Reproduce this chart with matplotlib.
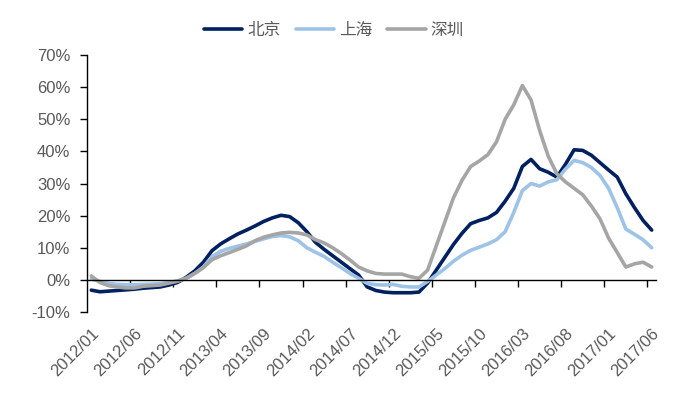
import numpy as np
import pandas as pd
import matplotlib
matplotlib.use('Agg')
import matplotlib.pyplot as plt
from matplotlib.ticker import FuncFormatter

plt.rcParams['font.family'] = ['Liberation Sans', 'Noto Sans CJK SC', 'DejaVu Sans']

# monthly categories 2012/01 .. 2017/06
months = pd.date_range('2012-01-01', periods=66, freq='MS').strftime('%Y/%m').tolist()

# year-on-year change, %
beijing = [-3.2, -3.7, -3.5, -3.3, -3.1, -2.9, -2.6, -2.4, -2.2, -1.6,
           -0.8, 0.8, 2.8, 5.5, 9.1, 11.2, 12.8, 14.3, 15.5, 16.8,
           18.2, 19.3, 20.1, 19.7, 17.8, 15.0, 11.7, 9.5, 7.5, 5.5,
           3.5, 1.5, -2.2, -3.3, -3.8, -4.0, -4.0, -4.0, -3.8, -1.0,
           3.0, 7.0, 11.0, 14.5, 17.5, 18.5, 19.3, 21.0, 24.5, 28.5,
           35.3, 37.5, 34.6, 33.5, 32.0, 36.0, 40.5, 40.3, 38.8, 36.5,
           34.2, 32.0, 26.8, 22.5, 18.5, 15.5]
shanghai = [0.3, -0.5, -1.1, -1.4, -1.5, -1.5, -1.4, -1.3, -1.2, -0.8,
            -0.3, 0.5, 2.0, 4.0, 7.2, 8.9, 9.8, 10.5, 11.2, 12.0,
            12.8, 13.5, 13.8, 13.4, 12.2, 10.0, 8.6, 7.3, 5.5, 3.8,
            2.0, 0.5, -1.1, -1.5, -1.6, -1.4, -2.0, -2.2, -2.2, -0.5,
            1.5, 3.5, 5.8, 7.7, 9.2, 10.2, 11.2, 12.5, 15.0, 21.0,
            27.8, 30.0, 29.2, 30.5, 31.2, 34.5, 37.2, 36.5, 35.0, 32.5,
            28.5, 22.5, 15.8, 14.2, 12.5, 10.0]
shenzhen = [1.2, -0.8, -1.8, -2.2, -2.5, -2.5, -2.0, -1.8, -1.6, -1.0,
            -0.4, 0.5, 2.0, 3.8, 6.3, 7.5, 8.5, 9.5, 10.6, 12.2,
            13.3, 14.0, 14.6, 14.8, 14.6, 14.0, 12.5, 11.5, 10.0, 8.2,
            6.2, 4.0, 2.8, 2.0, 1.8, 1.8, 1.8, 1.0, 0.5, 3.0,
            10.5, 18.0, 25.5, 31.0, 35.3, 37.0, 39.0, 43.0, 50.0, 54.5,
            60.5, 56.0, 46.5, 38.5, 33.0, 30.5, 28.5, 26.5, 23.0, 19.0,
            13.0, 8.5, 4.0, 5.0, 5.5, 4.0]

txt = '#595959'
fig = plt.figure(figsize=(6.83, 3.93), dpi=100)
ax = fig.add_axes([0.1274, 0.2061, 0.8331, 0.6539])

x = np.arange(len(months))
style = dict(lw=2.6, solid_joinstyle='round', solid_capstyle='round')
ax.plot(x, beijing, color='#002060', label='北京', **style)
ax.plot(x, shanghai, color='#9DC3E6', label='上海', **style)
ax.plot(x, shenzhen, color='#A5A5A5', label='深圳', **style)

ax.set_xlim(-0.5, len(months) - 0.5)
ax.set_ylim(-10, 70)
ax.set_yticks(np.arange(-10, 71, 10))
ax.yaxis.set_major_formatter(FuncFormatter(lambda v, p: f'{v:.0f}%'))
ax.tick_params(axis='y', length=5, width=1, labelsize=12, labelcolor=txt, pad=7)

for s in ['top', 'right']:
    ax.spines[s].set_visible(False)
ax.spines['bottom'].set_position(('data', 0))
ax.spines['left'].set_linewidth(1)
ax.spines['bottom'].set_linewidth(1)

# tick marks between categories, on the zero line
ax.set_xticks(np.arange(4.5, len(months) - 1, 5))
ax.tick_params(axis='x', length=5, width=1, labelbottom=False)

# category labels at the bottom of the plot
sec = ax.secondary_xaxis(0)
sec.spines['bottom'].set_visible(False)
sec.set_xticks(x[::5], labels=months[::5])
sec.tick_params(length=0, pad=10, labelsize=12, labelcolor=txt)
for lab in sec.get_xticklabels():
    lab.set_rotation(45)
    lab.set_ha('right')
    lab.set_va('top')
    lab.set_rotation_mode('anchor')

fig.legend(loc='center', bbox_to_anchor=(0.489, 0.922), ncol=3, frameon=False,
           prop={'family': ['Noto Sans CJK SC'], 'size': 12}, labelcolor=txt,
           handlelength=2.3, handletextpad=0.3, columnspacing=0.9)

fig.savefig('out.png', dpi=100)
